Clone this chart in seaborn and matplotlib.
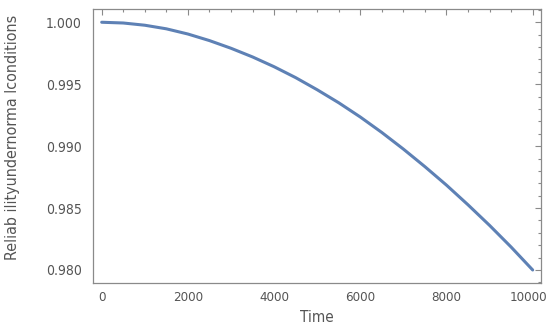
import numpy as np
import pandas as pd
import matplotlib
matplotlib.use("Agg")
import matplotlib.pyplot as plt
from matplotlib.ticker import MultipleLocator, FormatStrFormatter
from matplotlib.transforms import ScaledTranslation
import seaborn as sns

# Значения (шаг 500)
time = [0, 500, 1000, 1500, 2000, 2500, 3000, 3500, 4000, 4500, 5000,
        5500, 6000, 6500, 7000, 7500, 8000, 8500, 9000, 9500, 10000]
reliability = [1.00000, 0.99994, 0.99976, 0.99947, 0.99905, 0.99852,
               0.99790, 0.99720, 0.99641, 0.99553, 0.99455, 0.99350,
               0.99235, 0.99110, 0.98976, 0.98834, 0.98685, 0.98526,
               0.98360, 0.98185, 0.98000]

df = pd.DataFrame({"Time": time, "R": reliability})

sns.set_theme(style="white")
plt.rcParams["font.family"] = ["DejaVu Sans Condensed", "Liberation Sans Narrow", "DejaVu Sans"]
plt.rcParams["font.stretch"] = "condensed"

text_color = "#555555"
frame_color = "#8a8a8a"

fig = plt.figure(figsize=(5.5, 3.31), dpi=100)
ax = fig.add_axes([93 / 550, 1 - 283 / 331, (541 - 93) / 550, (283 - 9) / 331])

sns.lineplot(data=df, x="Time", y="R", ax=ax, color="#5E81B5", linewidth=2.2)

ax.set_xlim(-202, 10193)
ax.set_ylim(0.97895, 1.00107)

ax.xaxis.set_major_locator(MultipleLocator(2000))
ax.xaxis.set_minor_locator(MultipleLocator(500))
ax.yaxis.set_major_locator(MultipleLocator(0.005))
ax.yaxis.set_minor_locator(MultipleLocator(0.001))
ax.yaxis.set_major_formatter(FormatStrFormatter("%.3f"))

ax.tick_params(which="both", direction="in", top=True, right=True,
               color=frame_color, width=0.8, labelcolor=text_color)
ax.tick_params(axis="y", which="major", length=4, pad=8, labelsize=10)
ax.tick_params(axis="x", which="major", length=4, pad=6, labelsize=9.5)
ax.tick_params(which="minor", length=2.5)

for sp in ax.spines.values():
    sp.set_color(frame_color)
    sp.set_linewidth(0.9)

ax.set_xlabel("Time", color=text_color, fontsize=11, labelpad=4)
ax.set_ylabel("Reliab ilityundernorma lconditions", color=text_color, fontsize=11.5)
ax.yaxis.set_label_coords(-0.162, 0.533)

# последняя подпись (10000) чуть левее, чтобы не обрезалась
fig.canvas.draw()
last = [t for t in ax.xaxis.get_major_ticks() if t.get_loc() == 10000][0]
last.label1.set_transform(last.label1.get_transform()
                          + ScaledTranslation(-4 / 100, 0, fig.dpi_scale_trans))

fig.savefig("out.png", dpi=100)
